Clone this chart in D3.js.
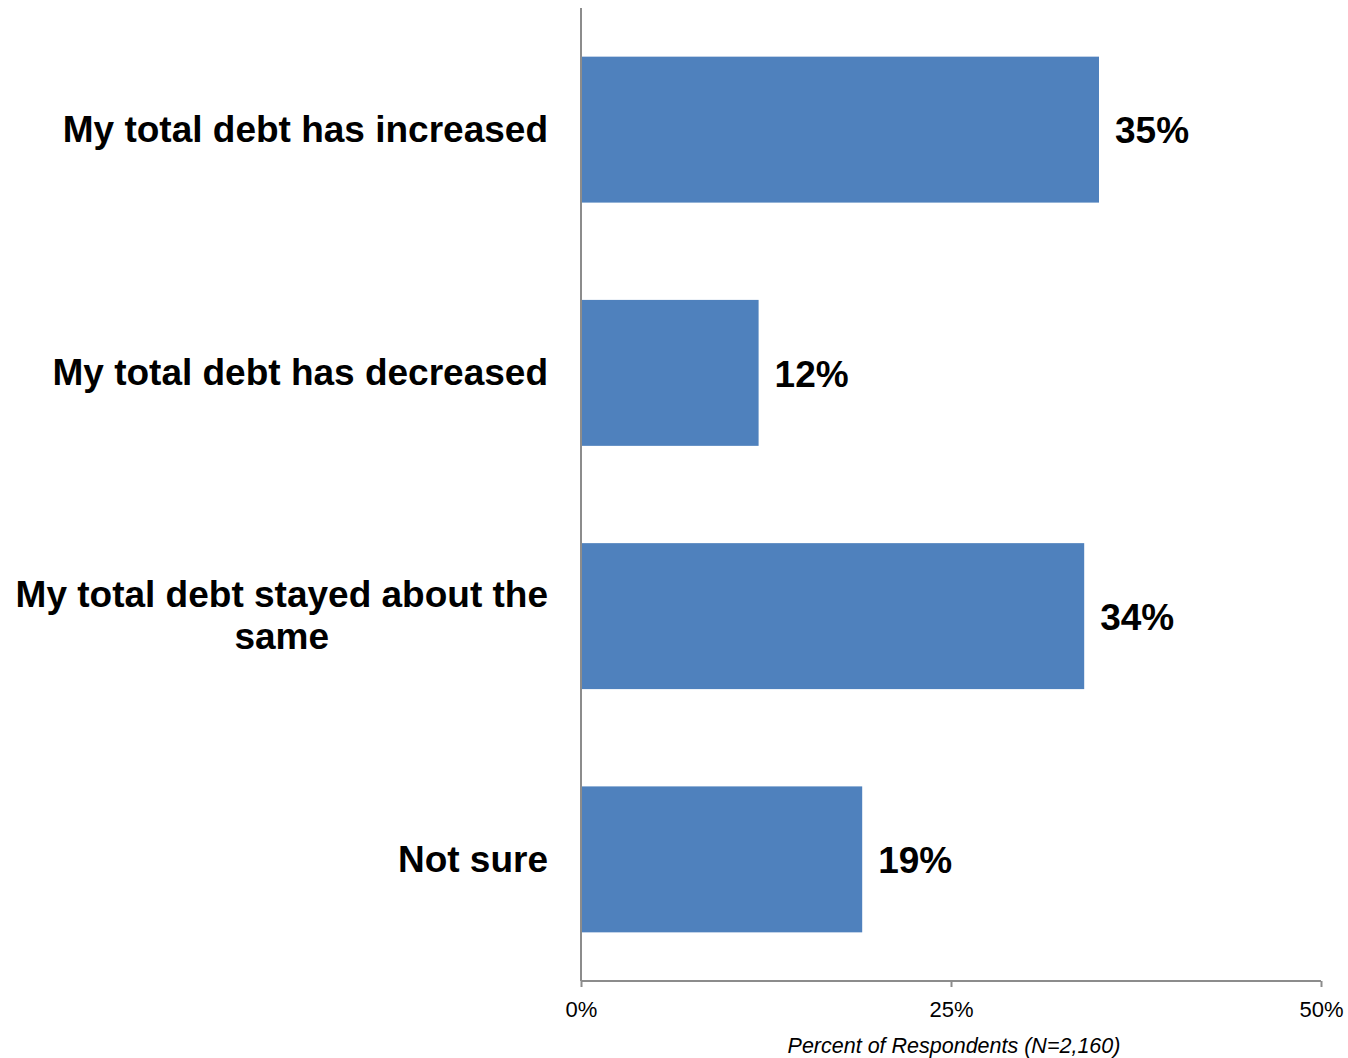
<!DOCTYPE html>
<html>
<head>
<meta charset="utf-8">
<script src="https://cdn.jsdelivr.net/npm/d3@7"></script>
<style>
  html, body { margin: 0; padding: 0; background: #fff; }
  svg { display: block; }
</style>
</head>
<body>
<svg id="chart" width="1348" height="1058"></svg>
<script>
// Survey responses: change in total debt
const categories = [
  ["My total debt has increased"],
  ["My total debt has decreased"],
  ["My total debt stayed about the", "same"],
  ["Not sure"]
];
const values = [35, 12, 34, 19];
const tickValues = [0, 25, 50];
const axisTitle = "Percent of Respondents (N=2,160)";

const svg = d3.select("#chart");
const margin = { left: 581, right: 27, top: 8, bottom: 77 };
const W = 1348, H = 1058;

const x = d3.scaleLinear()
  .domain([0, 50])
  .range([margin.left, W - margin.right]);

const y = d3.scaleBand()
  .domain(d3.range(categories.length))
  .range([margin.top, H - margin.bottom])
  .paddingInner(0.4)
  .paddingOuter(0.2);

const axisColor = "#8c8c8c";
const font = "'Liberation Sans', Arial, Helvetica, sans-serif";

// Bars
svg.append("g")
  .selectAll("rect")
  .data(values)
  .join("rect")
  .attr("x", x(0))
  .attr("y", (d, i) => y(i))
  .attr("width", d => x(d) - x(0))
  .attr("height", y.bandwidth())
  .attr("fill", "#4f81bd");

// Value labels
svg.append("g")
  .selectAll("text")
  .data(values)
  .join("text")
  .attr("x", d => x(d) + 16)
  .attr("y", (d, i) => y(i) + y.bandwidth() / 2)
  .attr("dy", "0.37em")
  .attr("font-family", font)
  .attr("font-weight", "bold")
  .attr("font-size", 37)
  .attr("fill", "#000")
  .text(d => d + "%");

// Category labels (centred block, right edge at 548)
const lineH = 42;
const catG = svg.append("g");
categories.forEach((lines, i) => {
  const cy = y(i) + y.bandwidth() / 2;
  const t = catG.append("text")
    .attr("font-family", font)
    .attr("font-weight", "bold")
    .attr("font-size", 37)
    .attr("fill", "#000");
  lines.forEach((ln, j) => {
    t.append("tspan")
      .attr("x", 548)
      .attr("y", cy + (j - (lines.length - 1) / 2) * lineH)
      .attr("dy", "0.33em")
      .text(ln);
  });
  // width of the widest line used to centre shorter lines under it
  const tspans = t.selectAll("tspan").nodes();
  const widths = tspans.map(n => n.getComputedTextLength());
  const maxW = d3.max(widths);
  tspans.forEach((n, j) => {
    d3.select(n).attr("x", 548 - maxW + (maxW - widths[j]) / 2);
  });
});

// Vertical category axis line
svg.append("line")
  .attr("x1", x(0)).attr("x2", x(0))
  .attr("y1", margin.top).attr("y2", H - margin.bottom)
  .attr("stroke", axisColor)
  .attr("stroke-width", 2);

// Horizontal value axis
const xAxis = d3.axisBottom(x)
  .tickValues(tickValues)
  .tickFormat(d => d + "%")
  .tickSize(6)
  .tickPadding(14);

const axG = svg.append("g")
  .attr("transform", `translate(0,${H - margin.bottom})`)
  .call(xAxis);
axG.select(".domain")
  .attr("stroke", axisColor)
  .attr("stroke-width", 2)
  .attr("d", `M${x(0)},0H${x(50)}`);
axG.selectAll(".tick line").attr("stroke", axisColor).attr("stroke-width", 2);
axG.selectAll(".tick text")
  .attr("font-family", font)
  .attr("font-size", 22)
  .attr("fill", "#000");

// Axis title
svg.append("text")
  .attr("x", (x(0) + x(50)) / 2 + 3)
  .attr("y", 1053)
  .attr("text-anchor", "middle")
  .attr("font-family", font)
  .attr("font-style", "italic")
  .attr("font-size", 21.5)
  .attr("fill", "#000")
  .text(axisTitle);
</script>
</body>
</html>
